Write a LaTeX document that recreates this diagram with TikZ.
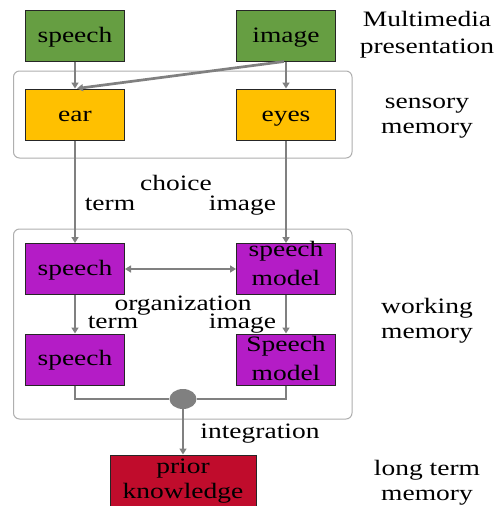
\documentclass[tikz,border=0pt]{standalone}
\usepackage{fontspec}
\setmainfont{Liberation Serif}[FakeStretch=1.25]
\usetikzlibrary{arrows.meta,shapes.geometric}

\definecolor{mmgreen}{RGB}{102,158,66}
\definecolor{mmyellow}{RGB}{255,192,0}
\definecolor{mmpurple}{RGB}{180,28,198}
\definecolor{mmred}{RGB}{192,12,44}
\definecolor{flow}{RGB}{128,128,128}
\definecolor{frameline}{RGB}{175,175,175}

\tikzset{
  box/.style={draw=black!85, line width=1pt, minimum width=99pt, minimum height=51pt, inner sep=0pt},
  gbox/.style={box, fill=mmgreen},
  ybox/.style={box, fill=mmyellow},
  pbox/.style={box, fill=mmpurple},
  rbox/.style={box, fill=mmred},
  stage/.style={draw=frameline, line width=1pt, rounded corners=6pt, fill=white},
  txt/.style={anchor=base, inner sep=0pt, font=\fontsize{22}{26}\selectfont},
  flowline/.style={draw=flow, line width=2.7pt},
  flowarrow/.style={flowline, -{Triangle[length=6pt,width=7pt]}},
  flowboth/.style={flowline, {Triangle[length=6pt,width=7pt]}-{Triangle[length=6pt,width=7pt]}},
  joint/.style={ellipse, fill=flow, minimum width=27pt, minimum height=20pt, inner sep=0pt}
}

\begin{document}
\begin{tikzpicture}[x=1pt,y=-1pt]
\useasboundingbox (0,0) rectangle (497,506);

% memory stage frames
\draw[stage] (13.5,71) rectangle (352,158);
\draw[stage] (13.5,229) rectangle (352,419);

% multimedia presentation
\node[gbox] (msp) at (75,35.5) {};
\node[txt] (msp-t) at (75,42.7) {speech};
\node[gbox] (mim) at (286,35.5) {};
\node[txt] (mim-t) at (286,42.7) {image};

% sensory memory
\node[ybox] (ear) at (75,114.5) {};
\node[txt] (ear-t) at (75,121.7) {ear};
\node[ybox] (eyes) at (286,114.5) {};
\node[txt] (eyes-t) at (286,121.7) {eyes};

% working memory
\node[pbox] (wsp) at (75,269) {};
\node[txt] (wsp-t) at (75,275) {speech};
\node[pbox] (wmod) at (286,269) {};
\node[txt] (wmod-t1) at (286,256.7) {speech};
\node[txt] (wmod-t2) at (286,285) {model};

\node[pbox] (isp) at (75,359.5) {};
\node[txt] (isp-t) at (75,365) {speech};
\node[pbox] (imod) at (286,359.5) {};
\node[txt] (imod-t1) at (286,351.7) {Speech};
\node[txt] (imod-t2) at (286,380) {model};

% long term memory
\node[rbox, minimum width=146pt, minimum height=53pt] (prior) at (183,481.5) {};
\node[txt] (prior-t1) at (183,473) {prior};
\node[txt] (prior-t2) at (183,498.3) {knowledge};

\node[joint] (join) at (183,399) {};

% connectors
\draw[flowarrow] (msp.south) -- (ear.north);
\draw[flowarrow] (mim.south) -- (eyes.north);
\draw[flowarrow] ([xshift=-2pt]mim.south) -- ([xshift=2pt]ear.north);
\draw[flowarrow] (ear.south) -- (wsp.north);
\draw[flowarrow] (eyes.south) -- (wmod.north);
\draw[flowboth] (wsp.east) -- (wmod.west);
\draw[flowarrow] (wsp.south) -- (isp.north);
\draw[flowarrow] (wmod.south) -- (imod.north);
\draw[flowline] (isp.south) |- (join.west);
\draw[flowline] (imod.south) |- (join.east);
\draw[flowarrow] (join.south) -- (prior.north);

% process labels
\node[txt] (l-choice) at (176,190.7) {choice};
\node[txt] (l-term1) at (110,210) {term};
\node[txt] (l-image1) at (242.5,210) {image};
\node[txt] (l-org) at (183,310.5) {organization};
\node[txt] (l-term2) at (113,328.3) {term};
\node[txt] (l-image2) at (242.5,328.3) {image};
\node[txt] (l-int) at (260,438) {integration};

% stage labels
\node[txt] (s-mm1) at (427,26.7) {Multimedia};
\node[txt] (s-mm2) at (427,53.3) {presentation};
\node[txt] (s-se1) at (427,108.3) {sensory};
\node[txt] (s-se2) at (427,133.3) {memory};
\node[txt] (s-wm1) at (427,313) {working};
\node[txt] (s-wm2) at (427,338) {memory};
\node[txt] (s-lt1) at (427,475) {long term};
\node[txt] (s-lt2) at (427,500) {memory};
\end{tikzpicture}
\end{document}
